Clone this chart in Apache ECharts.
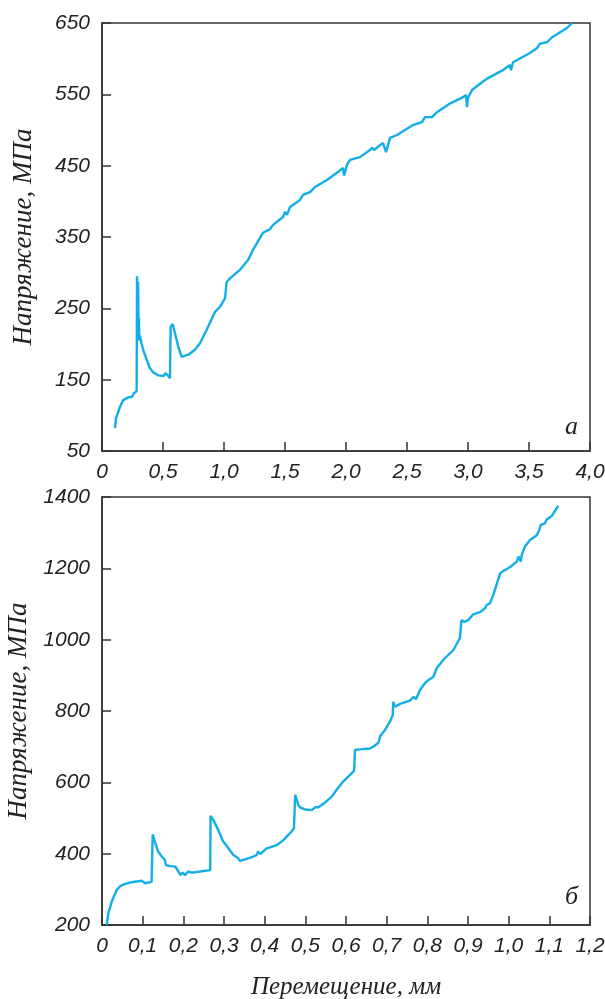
<!DOCTYPE html>
<html>
<head>
<meta charset="UTF-8">
<title>Напряжение – перемещение</title>
<script src="https://cdn.jsdelivr.net/npm/echarts@6.0.0/dist/echarts.min.js"></script>
<style>
  html, body { margin: 0; padding: 0; background: #fff; }
  #main { width: 605px; height: 999px; }
</style>
</head>
<body>
<div id="main"></div>
<script>
// chart "а": displacement (mm) and stress (MPa)
const topDisp = [0.107, 0.115, 0.148, 0.172, 0.213, 0.246, 0.262, 0.275, 0.284, 0.287, 0.292, 0.296, 0.300, 0.303, 0.306, 0.310, 0.318, 0.325, 0.339, 0.366, 0.393, 0.421, 0.462, 0.503, 0.519, 0.544, 0.557, 0.563, 0.579, 0.598, 0.626, 0.653, 0.667, 0.708, 0.762, 0.803, 0.858, 0.926, 0.967, 1.008, 1.022, 1.049, 1.131, 1.199, 1.238, 1.320, 1.377, 1.402, 1.484, 1.500, 1.516, 1.541, 1.623, 1.648, 1.705, 1.746, 1.844, 1.926, 1.975, 1.984, 2.008, 2.033, 2.115, 2.197, 2.213, 2.230, 2.303, 2.328, 2.361, 2.418, 2.549, 2.623, 2.648, 2.705, 2.746, 2.852, 2.959, 2.984, 2.992, 3.000, 3.033, 3.115, 3.156, 3.287, 3.344, 3.352, 3.369, 3.508, 3.566, 3.590, 3.648, 3.689, 3.811, 3.852];
const topStress = [82, 96, 112, 121, 125, 126, 131, 133, 134, 295, 230, 287, 205, 236, 205, 212, 210, 200, 191, 178, 166, 160, 156, 155, 159, 155, 152, 224, 228, 215, 196, 182, 180, 185, 192, 201, 220, 245, 252, 264, 287, 292, 304, 318, 332, 356, 361, 367, 378, 385, 381, 392, 402, 409, 413, 420, 430, 440, 447, 436, 451, 458, 462, 472, 475, 472, 482, 469, 489, 493, 507, 511, 518, 518, 525, 537, 546, 549, 532, 545, 556, 567, 572, 584, 591, 584, 595, 608, 615, 621, 623, 630, 643, 650];

// chart "б"
const botDisp = [0.0115, 0.0156, 0.0238, 0.036, 0.046, 0.0566, 0.073, 0.0976, 0.106, 0.122, 0.1246, 0.130, 0.138, 0.147, 0.155, 0.157, 0.167, 0.180, 0.188, 0.192, 0.198, 0.204, 0.212, 0.221, 0.241, 0.266, 0.267, 0.274, 0.286, 0.298, 0.311, 0.323, 0.335, 0.339, 0.343, 0.352, 0.372, 0.380, 0.384, 0.389, 0.405, 0.430, 0.446, 0.466, 0.472, 0.475, 0.483, 0.487, 0.499, 0.516, 0.524, 0.532, 0.548, 0.565, 0.577, 0.593, 0.610, 0.620, 0.622, 0.639, 0.659, 0.667, 0.680, 0.684, 0.696, 0.708, 0.715, 0.716, 0.720, 0.733, 0.757, 0.767, 0.772, 0.782, 0.794, 0.803, 0.815, 0.823, 0.839, 0.864, 0.880, 0.884, 0.890, 0.901, 0.913, 0.929, 0.942, 0.946, 0.954, 0.962, 0.966, 0.979, 0.987, 1.003, 1.020, 1.024, 1.030, 1.032, 1.040, 1.052, 1.069, 1.075, 1.079, 1.089, 1.093, 1.106, 1.122];
const botStress = [200, 233, 265, 298, 310, 315, 320, 324, 317, 321, 454, 434, 406, 392, 382, 368, 365, 364, 350, 340, 347, 340, 350, 347, 350, 354, 506, 494, 466, 434, 415, 396, 387, 380, 375, 384, 392, 396, 406, 399, 415, 424, 438, 462, 471, 565, 536, 530, 524, 522, 530, 530, 543, 560, 579, 602, 621, 633, 691, 693, 695, 700, 711, 730, 747, 770, 789, 826, 812, 820, 829, 840, 833, 859, 878, 887, 896, 920, 943, 971, 1004, 1055, 1050, 1055, 1071, 1077, 1088, 1097, 1102, 1125, 1120, 1186, 1193, 1203, 1219, 1233, 1219, 1237, 1261, 1279, 1293, 1307, 1322, 1326, 1336, 1347, 1375];

const yName = 'Напряжение, МПа';
const xName = 'Перемещение, мм';
const panelTags = ['а', 'б'];

const axisColor = '#333';
const lineColor = '#12aee8';
const labelFont = { fontFamily: 'Liberation Sans', fontStyle: 'italic', fontSize: 21, color: '#222' };
const nameFont = { fontFamily: 'Liberation Serif', fontStyle: 'italic', fontSize: 27, color: '#222' };

function pairs(xs, ys) {
  return xs.map((x, i) => [x, ys[i]]);
}
function fmtX(v) {
  return v === 0 ? '0' : v.toFixed(1).replace('.', ',');
}

function xAxis(gi, max, step, name) {
  return {
    type: 'value', gridIndex: gi, min: 0, max: max, interval: step,
    name: name, nameLocation: 'middle', nameGap: 50,
    nameTextStyle: Object.assign({}, nameFont, { fontSize: 25 }),
    axisLine: { lineStyle: { color: axisColor, width: 1.5 } },
    axisTick: { inside: true, length: 9, lineStyle: { color: axisColor, width: 1.5 } },
    axisLabel: Object.assign({ margin: 11, formatter: fmtX, showMinLabel: true, showMaxLabel: true }, labelFont),
    splitLine: { show: false }
  };
}
function yAxis(gi, min, max, step) {
  return {
    type: 'value', gridIndex: gi, min: min, max: max, interval: step,
    name: yName, nameLocation: 'middle', nameGap: 65, nameRotate: 90,
    nameTextStyle: nameFont,
    axisLine: { show: true, lineStyle: { color: axisColor, width: 1.5 } },
    axisTick: { show: true, inside: true, length: 9, lineStyle: { color: axisColor, width: 1.5 } },
    axisLabel: Object.assign({ margin: 12, formatter: v => String(v), showMinLabel: true, showMaxLabel: true }, labelFont),
    splitLine: { show: false }
  };
}

const gridBase = { left: 102, width: 488, height: 428, show: true, borderColor: axisColor, borderWidth: 1.5, backgroundColor: 'transparent', containLabel: false, outerBoundsMode: 'none' };

const chart = echarts.init(document.getElementById('main'), null, { renderer: 'canvas' });
chart.setOption({
  animation: false,
  backgroundColor: '#fff',
  grid: [
    Object.assign({ top: 23 }, gridBase),
    Object.assign({ top: 497 }, gridBase)
  ],
  xAxis: [xAxis(0, 4, 0.5, ''), xAxis(1, 1.2, 0.1, xName)],
  yAxis: [yAxis(0, 50, 650, 100), yAxis(1, 200, 1400, 200)],
  graphic: [
    { type: 'text', left: 565, top: 414, style: { text: panelTags[0], font: 'italic 26px "Liberation Serif"', fill: '#222' } },
    { type: 'text', left: 565, top: 884, style: { text: panelTags[1], font: 'italic 26px "Liberation Serif"', fill: '#222' } }
  ],
  series: [
    { type: 'line', xAxisIndex: 0, yAxisIndex: 0, data: pairs(topDisp, topStress), showSymbol: false, lineStyle: { color: lineColor, width: 2.4 } },
    { type: 'line', xAxisIndex: 1, yAxisIndex: 1, data: pairs(botDisp, botStress), showSymbol: false, lineStyle: { color: lineColor, width: 2.4 } }
  ]
});
</script>
</body>
</html>
